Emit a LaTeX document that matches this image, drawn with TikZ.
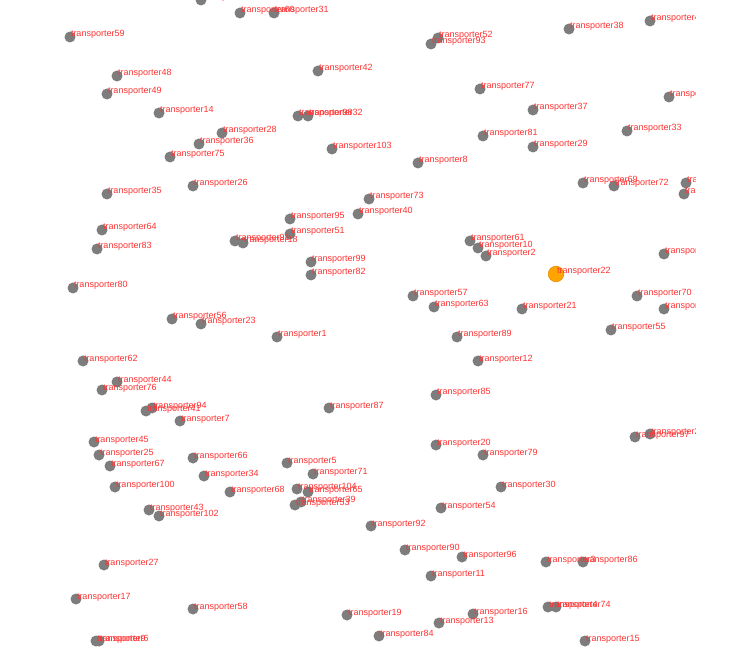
\documentclass[tikz,border=0pt]{standalone}
\usepackage{fontspec}
\setmainfont{Liberation Sans}
\definecolor{dotgray}{RGB}{125,125,125}
\definecolor{labred}{RGB}{255,50,50}
\definecolor{hiorange}{RGB}{255,165,0}
\definecolor{hiedge}{RGB}{230,140,0}
\tikzset{
  dotnode/.style={circle,fill=dotgray,draw=none,minimum size=11pt,inner sep=0pt},
  hinode/.style={circle,fill=hiorange,draw=hiedge,line width=0.6pt,minimum size=15.5pt,inner sep=0pt},
  labnode/.style={anchor=base west,inner sep=0pt,outer sep=0pt,text=labred,font=\fontsize{9pt}{9pt}\selectfont}
}
\def\alldata{%
t105/201/0/transporter105,
t60/240/13/transporter60,
t31/274/13/transporter31,
t59/70/37/transporter59,
t48/117/76/transporter48,
t49/107/94/transporter49,
t14/159/113/transporter14,
t28/222/133/transporter28,
t36/199/144/transporter36,
t75/170/157/transporter75,
t26/193/186/transporter26,
t35/107/194/transporter35,
t52/438/38/transporter52,
t93/431/44/transporter93,
t42/318/71/transporter42,
t77/480/89/transporter77,
t98/298/116/transporter98,
t32/308/116/transporter32,
t81/483/136/transporter81,
t103/332/149/transporter103,
t8/418/163/transporter8,
t73/369/199/transporter73,
t40/358/214/transporter40,
t95/290/219/transporter95,
t38/569/29/transporter38,
t46/650/21/transporter46,
t37/533/110/transporter37,
t47/669/97/transporter47,
t33/627/131/transporter33,
t29/533/147/transporter29,
t69/583/183/transporter69,
t72/614/186/transporter72,
t50/686/183/transporter50,
t78/684/194/transporter78,
t64/102/230/transporter64,
t83/97/249/transporter83,
t80/73/288/transporter80,
t56/172/319/transporter56,
t23/201/324/transporter23,
t62/83/361/transporter62,
t44/117/382/transporter44,
t76/102/390/transporter76,
t94/152/408/transporter94,
t41/146/411/transporter41,
t7/180/421/transporter7,
t91/235/241/transporter91,
t18/243/243/transporter18,
t51/290/234/transporter51,
t99/311/262/transporter99,
t82/311/275/transporter82,
t57/413/296/transporter57,
t63/434/307/transporter63,
t1/277/337/transporter1,
t89/457/337/transporter89,
t12/478/361/transporter12,
t85/436/395/transporter85,
t87/329/408/transporter87,
t61/470/241/transporter61,
t10/478/248/transporter10,
t2/486/256/transporter2,
t88/664/254/transporter88,
t70/637/296/transporter70,
t101/664/309/transporter101,
t21/522/309/transporter21,
t55/611/330/transporter55,
t45/94/442/transporter45,
t25/99/455/transporter25,
t67/110/466/transporter67,
t100/115/487/transporter100,
t43/149/510/transporter43,
t102/159/516/transporter102,
t66/193/458/transporter66,
t34/204/476/transporter34,
t68/230/492/transporter68,
t27/104/565/transporter27,
t17/76/599/transporter17,
t58/193/609/transporter58,
t9/96/641/transporter9,
t6/99/641/transporter6,
t5/287/463/transporter5,
t71/313/474/transporter71,
t104/297/489/transporter104,
t65/308/492/transporter65,
t39/301/502/transporter39,
t53/295/505/transporter53,
t20/436/445/transporter20,
t79/483/455/transporter79,
t54/441/508/transporter54,
t92/371/526/transporter92,
t90/405/550/transporter90,
t96/462/557/transporter96,
t11/431/576/transporter11,
t19/347/615/transporter19,
t84/379/636/transporter84,
t13/439/623/transporter13,
t16/473/614/transporter16,
t97/635/437/transporter97,
t24/650/434/transporter24,
t30/501/487/transporter30,
t3/546/562/transporter3,
t86/583/562/transporter86,
t4/548/607/transporter4,
t74/556/607/transporter74,
t15/585/641/transporter15%
}
\begin{document}
\begin{tikzpicture}[x=1pt,y=-1pt]
\useasboundingbox (0,0) rectangle (737,655);
\fill[white] (0,0) rectangle (737,655);
\begin{scope}
\clip (0,0) rectangle (695,655);
\foreach \n/\x/\y/\l in \alldata {
  \node[dotnode] (\n) at (\x,\y) {};
}
\node[hinode] (t22) at (556,274) {};
\foreach \n/\x/\y/\l in \alldata {
  \node[labnode] (\n l) at ([xshift=1pt]\n.center) {\l};
}
\node[labnode] (t22l) at ([xshift=1pt]t22.center) {transporter22};
\end{scope}
\end{tikzpicture}
\end{document}
